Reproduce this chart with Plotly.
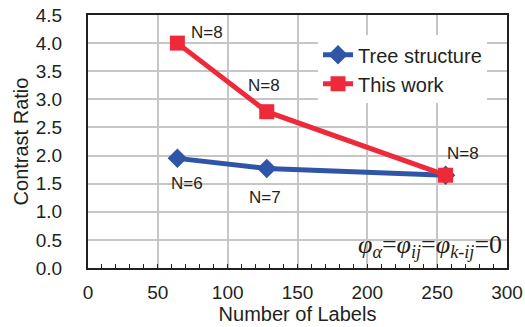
import plotly.graph_objects as go

labels = [64, 128, 256]
tree_ratio = [1.95, 1.77, 1.65]
this_ratio = [4.0, 2.78, 1.65]
tree_n = ["N=6", "N=7"]
this_n = ["N=8", "N=8", "N=8"]

BLUE = "#2f55a9"
RED = "#ee2a3a"
INK = "#231f20"
FONT = "Liberation Sans, Arial, sans-serif"

fig = go.Figure()
fig.add_trace(go.Scatter(
    x=labels, y=tree_ratio, name="Tree structure", mode="lines+markers",
    line=dict(color=BLUE, width=5),
    marker=dict(symbol="diamond", size=15, color=BLUE),
))
fig.add_trace(go.Scatter(
    x=labels, y=this_ratio, name="This work", mode="lines+markers",
    line=dict(color=RED, width=5),
    marker=dict(symbol="square", size=15, color=RED),
))

# point labels: (x shift, y shift) in pixels from each marker
this_shift = [(30, 11), (-3, 26), (17, 22)]
tree_shift = [(10, -25), (-2, -29)]
for x, y, t, (dx, dy) in zip(labels, this_ratio, this_n, this_shift):
    fig.add_annotation(x=x, y=y, text=t, showarrow=False, xanchor="center",
                       yanchor="middle", xshift=dx, yshift=dy,
                       font=dict(size=17, color=INK, family=FONT))
for x, y, t, (dx, dy) in zip(labels, tree_ratio, tree_n, tree_shift):
    fig.add_annotation(x=x, y=y, text=t, showarrow=False, xanchor="center",
                       yanchor="middle", xshift=dx, yshift=dy,
                       font=dict(size=17, color=INK, family=FONT))

fig.add_annotation(
    x=1.0, y=0.0, xref="paper", yref="paper", showarrow=False,
    xanchor="right", yanchor="bottom", xshift=-3, yshift=4,
    text="<i>φ</i><sub><i>α</i></sub>=<i>φ</i><sub><i>ij</i></sub>=<i>φ</i><sub><i>k-ij</i></sub>=0",
    font=dict(family="Liberation Serif, Times New Roman, serif", size=26, color=INK),
)

axis_common = dict(
    showline=True, linecolor=INK, linewidth=2, mirror=True,
    showgrid=True, gridcolor="#c6c6c6", gridwidth=1.5,
    zeroline=False, automargin=False,
    tickfont=dict(size=19, color=INK, family=FONT),
    title_font=dict(size=20, color=INK, family=FONT),
)

fig.update_xaxes(
    range=[0, 300], dtick=50, title_text="Number of Labels", title_standoff=2,
    ticks="inside", ticklen=4, tickcolor=INK, ticklabelstandoff=6,
    minor=dict(dtick=10, ticks="inside", ticklen=4, tickcolor=INK, showgrid=False),
    **axis_common,
)
fig.update_yaxes(
    range=[0, 4.5], dtick=0.5, tickformat=".1f", title_text="Contrast Ratio",
    title_standoff=2, ticks="", ticklabelstandoff=20, **axis_common,
)

fig.update_layout(
    width=525, height=327,
    margin=dict(l=88, r=18, t=15, b=59),
    plot_bgcolor="white", paper_bgcolor="white",
    font=dict(family=FONT, size=19, color=INK),
    showlegend=True,
    legend=dict(x=0.549, y=0.92, xanchor="left", yanchor="top",
                bgcolor="white", borderwidth=0,
                font=dict(size=20, color=INK, family=FONT),
                tracegroupgap=0, itemwidth=30),
)

fig.write_html("out.html")
